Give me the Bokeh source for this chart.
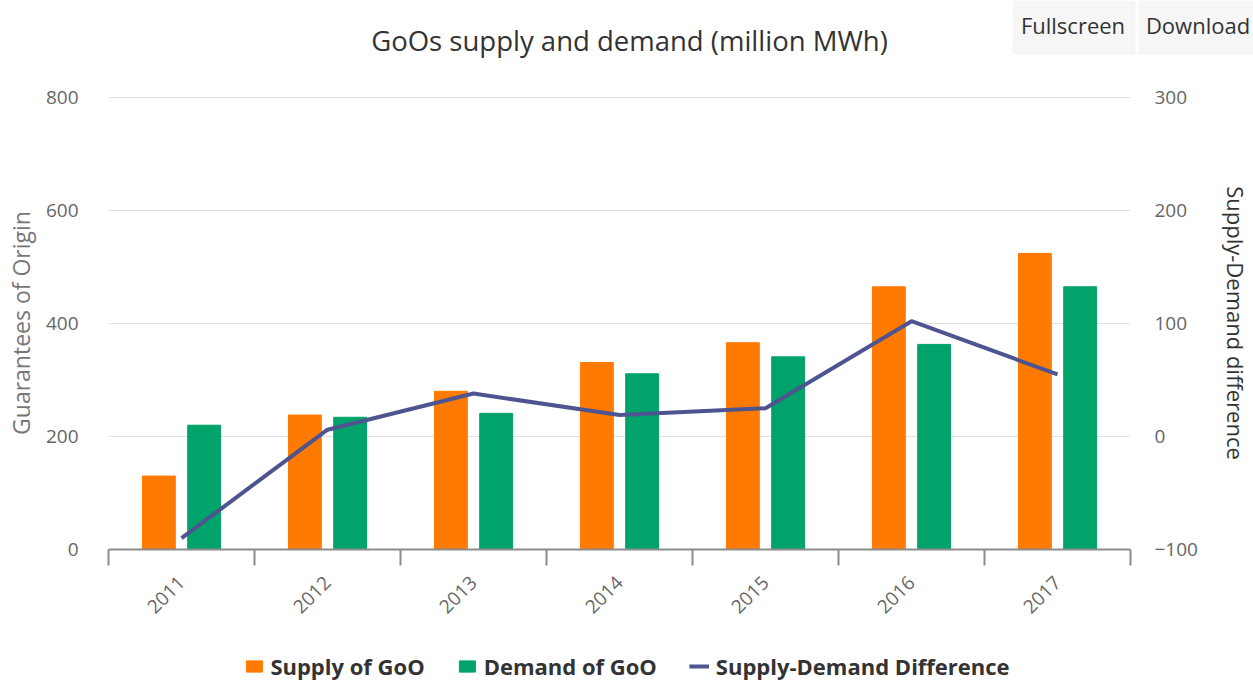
import math
from bokeh.plotting import figure
from bokeh.layouts import column
from bokeh.models import (ColumnDataSource, Range1d, LinearAxis, FixedTicker,
                          Legend, LegendItem)
from bokeh.core.properties import value
from bokeh.transform import dodge
from bokeh.embed import file_html
from bokeh.resources import INLINE

years = [2011, 2012, 2013, 2014, 2015, 2016, 2017]
supply = [130, 238, 280, 331, 366, 465, 524]
demand = [220, 234, 241, 311, 341, 363, 465]
difference = [-90, 6, 38, 19, 25, 102, 55]
left_ticks = [0, 200, 400, 600, 800]
right_ticks = [-100, 0, 100, 200, 300]
boundaries = [y - 0.5 for y in years] + [years[-1] + 0.5]
title_text = "GoOs supply and demand (million MWh)"
buttons = ["Fullscreen", "Download"]
series_names = ["Supply of GoO", "Demand of GoO", "Supply-Demand Difference"]

FONT = "Open Sans"
W = 1253
HEAD_H = 62
FOOT_H = 42
MAIN_H = 687 - HEAD_H - FOOT_H
PLOT_PX = 452  # frame height in pixels for the 0..800 span

orange = "#FF7A00"
green = "#00A36A"
navy = "#4E5490"

src = ColumnDataSource(dict(year=years, supply=supply, demand=demand, diff=difference))

# ---------- header (title + buttons) ----------
head = figure(width=W, height=HEAD_H, output_backend="svg", toolbar_location=None,
              x_range=Range1d(0, W), y_range=Range1d(HEAD_H, 0),
              x_axis_type=None, y_axis_type=None, min_border=0)
head.frame_align = False
head.outline_line_color = None
head.grid.visible = False
head.rect(x=[1073.5, 1195.5], y=[27, 27], width=[123, 115], height=[54, 54],
          fill_color="#f6f6f6", line_color=None)
head.text(x=[1072.5, 1197.5], y=[24, 24], text=buttons, text_align="center",
          text_baseline="middle", text_font=value(FONT), text_font_size=value("22px"),
          text_color="#333333")
head.text(x=[629], y=[40], text=[title_text], text_align="center",
          text_baseline="middle", text_font=value(FONT), text_font_size=value("27.5px"),
          text_color="#333333")

# ---------- main chart ----------
# one extra pixel of headroom so the top gridline (800 / 300) is not clipped
p = figure(width=W, height=MAIN_H, output_backend="svg", toolbar_location=None,
           x_range=Range1d(years[0] - 0.5, years[-1] + 0.5),
           y_range=Range1d(0, 800 + 800 / PLOT_PX),
           min_border_left=108, min_border_right=123, min_border_top=97 - HEAD_H - 1,
           min_border_bottom=MAIN_H - (549 - HEAD_H))
p.extra_y_ranges = {"diff": Range1d(-100, 300 + 400 / PLOT_PX)}
p.outline_line_color = None

p.vbar(x=dodge("year", -0.155, range=p.x_range), top="supply", width=0.225,
       source=src, color=orange)
p.vbar(x=dodge("year", 0.155, range=p.x_range), top="demand", width=0.225,
       source=src, color=green)
p.line(x="year", y="diff", source=src, y_range_name="diff",
       line_color=navy, line_width=4)

# x axis
xa = p.xaxis[0]
xa.ticker = FixedTicker(ticks=years, minor_ticks=boundaries)
xa.major_tick_out = 0
xa.major_tick_in = 0
xa.minor_tick_out = 16
xa.minor_tick_in = 0
xa.minor_tick_line_color = "#8c8c8c"
xa.minor_tick_line_width = 2
xa.axis_line_color = "#8c8c8c"
xa.axis_line_width = 2
xa.major_label_orientation = math.pi / 4
xa.major_label_standoff = 14
xa.major_label_text_font = FONT
xa.major_label_text_font_size = "19px"
xa.major_label_text_color = "#666666"

# left axis
ya = p.yaxis[0]
ya.ticker = FixedTicker(ticks=left_ticks)
ya.axis_line_color = None
ya.major_tick_line_color = None
ya.minor_tick_line_color = None
ya.major_label_standoff = 24
ya.major_label_text_font = FONT
ya.major_label_text_font_size = "19px"
ya.major_label_text_color = "#666666"
ya.axis_label = "Guarantees of Origin"
ya.axis_label_text_font = FONT
ya.axis_label_text_font_size = "23px"
ya.axis_label_text_font_style = "normal"
ya.axis_label_text_color = "#777777"
ya.axis_label_standoff = 6

p.ygrid.ticker = FixedTicker(ticks=left_ticks)
p.ygrid.grid_line_color = "#e0e0e0"
p.xgrid.visible = False

ra = LinearAxis(y_range_name="diff", ticker=FixedTicker(ticks=right_ticks))
ra.axis_line_color = None
ra.major_tick_line_color = None
ra.minor_tick_line_color = None
ra.major_label_standoff = 18
ra.major_label_text_font = FONT
ra.major_label_text_font_size = "19px"
ra.major_label_text_color = "#666666"
ra.axis_label = "Supply-Demand difference"
ra.axis_label_text_font = FONT
ra.axis_label_text_font_size = "22px"
ra.axis_label_text_font_style = "normal"
ra.axis_label_text_color = "#333333"
ra.axis_label_standoff = 20
p.add_layout(ra, "right")

# ---------- footer (legend) ----------
foot = figure(width=W, height=FOOT_H, output_backend="svg", toolbar_location=None,
              x_range=Range1d(years[0] - 0.5, years[-1] + 0.5), y_range=Range1d(0, 800),
              x_axis_type=None, y_axis_type=None, min_border=0)
foot.frame_align = False
foot.outline_line_color = None
foot.grid.visible = False
l_sup = foot.vbar(x="year", top="supply", width=0.225, source=src, color=orange, visible=False)
l_dem = foot.vbar(x="year", top="demand", width=0.225, source=src, color=green, visible=False)
l_dif = foot.line(x="year", y="diff", source=src, line_color=navy, line_width=4, visible=False)

legend = Legend(items=[LegendItem(label=series_names[0], renderers=[l_sup]),
                       LegendItem(label=series_names[1], renderers=[l_dem]),
                       LegendItem(label=series_names[2], renderers=[l_dif])],
                orientation="horizontal", location="center")
legend.label_text_font = FONT
legend.label_text_font_size = "22px"
legend.label_text_font_style = "bold"
legend.label_text_color = "#333333"
legend.glyph_width = 20
legend.glyph_height = 14
legend.spacing = 32
legend.label_standoff = 7
legend.border_line_color = None
legend.background_fill_alpha = 0
legend.margin = 0
legend.padding = 0
foot.add_layout(legend, "center")

layout = column(head, p, foot, spacing=0)
open("out.html", "w").write(file_html(layout, INLINE))
